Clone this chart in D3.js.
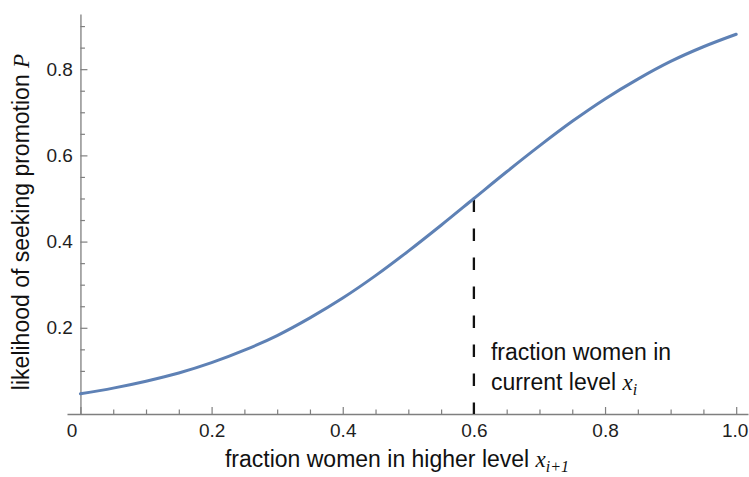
<!DOCTYPE html>
<html>
<head>
<meta charset="utf-8">
<script src="https://cdn.jsdelivr.net/npm/d3@7"></script>
<style>
  body { margin: 0; background: #fff; }
  svg { display: block; font-family: "Liberation Sans", Arial, Helvetica, sans-serif; }
  .math { font-family: "Liberation Serif", "Times New Roman", serif; font-style: italic; }
</style>
</head>
<body>
<div id="chart"></div>
<script>
// values
const fractionHigher = [0, 0.05, 0.1, 0.15, 0.2, 0.25, 0.3, 0.35, 0.4, 0.45, 0.5,
  0.55, 0.6, 0.65, 0.7, 0.75, 0.8, 0.85, 0.9, 0.95, 1.0];
const promotionLikelihood = [0.047, 0.060, 0.076, 0.095, 0.119, 0.148, 0.182, 0.223, 0.269, 0.321, 0.378,
  0.438, 0.500, 0.562, 0.622, 0.679, 0.731, 0.777, 0.818, 0.852, 0.881];

const xTickValues = [0, 0.2, 0.4, 0.6, 0.8, 1.0];
const xTickLabels = ["0", "0.2", "0.4", "0.6", "0.8", "1.0"];
const xMinorTicks = [0.05, 0.1, 0.15, 0.25, 0.3, 0.35, 0.45, 0.5, 0.55, 0.65, 0.7, 0.75, 0.85, 0.9, 0.95];
const yTickValues = [0.2, 0.4, 0.6, 0.8];
const yTickLabels = ["0.2", "0.4", "0.6", "0.8"];
const yMinorTicks = [0.05, 0.1, 0.15, 0.25, 0.3, 0.35, 0.45, 0.5, 0.55, 0.65, 0.7, 0.75, 0.85, 0.9];

const currentLevel = 0.6;

const width = 749, height = 477;
const axisColor = "#7f7f7f";
const lineColor = "#5e81b5";

const data = fractionHigher.map((d, i) => ({ x: d, p: promotionLikelihood[i] }));

const svg = d3.select("#chart")
  .append("svg")
  .attr("width", width)
  .attr("height", height);

// Mathematica-style plot range with a little padding on x
const x = d3.scaleLinear().domain([-0.0205, 1.018]).range([67, 748]);
const y = d3.scaleLinear().domain([0, 0.928]).range([414, 14]);

// minor ticks first so major ones sit on top
const xMinor = svg.append("g")
  .attr("transform", `translate(0,${y(0)})`)
  .call(d3.axisBottom(x).tickValues(xMinorTicks).tickFormat("").tickSizeInner(-4.5).tickSizeOuter(0));
xMinor.select(".domain").remove();

const yMinor = svg.append("g")
  .attr("transform", `translate(${x(0)},0)`)
  .call(d3.axisLeft(y).tickValues(yMinorTicks).tickFormat("").tickSizeInner(-4.5).tickSizeOuter(0));
yMinor.select(".domain").remove();

const xAxis = svg.append("g")
  .attr("transform", `translate(0,${y(0)})`)
  .call(d3.axisBottom(x)
    .tickValues(xTickValues)
    .tickFormat((d, i) => xTickLabels[i])
    .tickSizeInner(-7)
    .tickSizeOuter(0)
    .tickPadding(9.5));

// the origin label is pushed left of the y axis, the last one kept inside the frame
xAxis.selectAll(".tick").filter(d => d === 0).select("text").attr("x", -9);
xAxis.selectAll(".tick").filter(d => d === 1).select("text").attr("x", -1.5);

const yAxis = svg.append("g")
  .attr("transform", `translate(${x(0)},0)`)
  .call(d3.axisLeft(y)
    .tickValues(yTickValues)
    .tickFormat((d, i) => yTickLabels[i])
    .tickSizeInner(-7)
    .tickSizeOuter(0)
    .tickPadding(7.5));

svg.selectAll(".tick line").attr("stroke", axisColor).attr("stroke-width", 1.2);
svg.selectAll(".domain").attr("stroke", axisColor).attr("stroke-width", 1.3);
[xAxis, yAxis].forEach(g => g
  .attr("font-family", null)
  .attr("font-size", 19)
  .selectAll("text").attr("fill", "#1e1e1e"));

// dashed marker at the current level
const pCurrent = promotionLikelihood[fractionHigher.indexOf(currentLevel)];
svg.append("line")
  .attr("x1", x(currentLevel)).attr("x2", x(currentLevel))
  .attr("y1", y(pCurrent) + 1).attr("y2", y(0))
  .attr("stroke", "#111")
  .attr("stroke-width", 2.3)
  .attr("stroke-dasharray", "12.5,16.5");

const line = d3.line()
  .x(d => x(d.x))
  .y(d => y(d.p))
  .curve(d3.curveMonotoneX);

svg.append("path")
  .datum(data)
  .attr("fill", "none")
  .attr("stroke", lineColor)
  .attr("stroke-width", 3)
  .attr("stroke-linecap", "round")
  .attr("d", line);

// annotation next to the dashed line
const note = svg.append("text")
  .attr("x", x(currentLevel) + 17)
  .attr("y", 360)
  .attr("font-size", 23)
  .attr("fill", "#111");
note.append("tspan").text("fraction women in");
note.append("tspan").attr("x", x(currentLevel) + 17).attr("dy", 30).text("current level ");
note.append("tspan").attr("class", "math").text("x");
note.append("tspan").attr("class", "math").attr("font-size", 16).attr("dy", 5).text("i");

// axis titles
const xTitle = svg.append("text")
  .attr("x", 397)
  .attr("y", 467)
  .attr("text-anchor", "middle")
  .attr("font-size", 23)
  .attr("fill", "#111");
xTitle.append("tspan").text("fraction women in higher level ");
xTitle.append("tspan").attr("class", "math").text("x");
xTitle.append("tspan").attr("class", "math").attr("font-size", 16).attr("dy", 5).text("i+1");

const yTitle = svg.append("text")
  .attr("transform", "translate(29,222) rotate(-90)")
  .attr("text-anchor", "middle")
  .attr("font-size", 23)
  .attr("fill", "#111");
yTitle.append("tspan").text("likelihood of seeking promotion ");
yTitle.append("tspan").attr("class", "math").text("P");
</script>
</body>
</html>
